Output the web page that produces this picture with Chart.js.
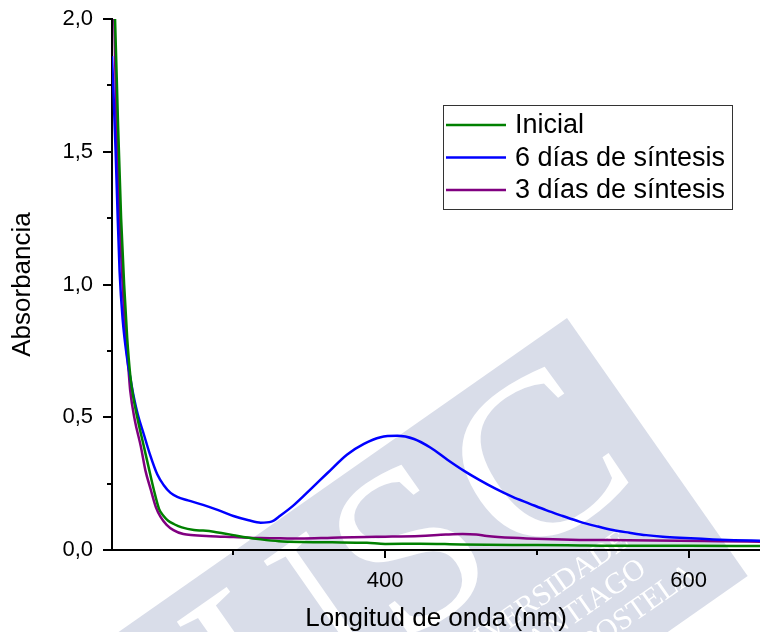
<!DOCTYPE html>
<html>
<head>
<meta charset="utf-8">
<script src="https://cdn.jsdelivr.net/npm/chart.js@4.4.1/dist/chart.umd.min.js"></script>
<style>
  html, body { margin: 0; padding: 0; background: #fff; }
  canvas { display: block; }
</style>
</head>
<body>
<canvas id="spectra" width="760" height="632"></canvas>
<script>
// UV-Vis absorption spectra of the synthesis samples

// Inicial
const inicialNm = [220, 222, 224, 226, 228, 230, 232, 234, 237, 241, 244, 247.6, 251, 254, 257, 261, 266, 274, 280, 287,
  293, 300, 309, 318, 330, 344, 365, 388, 400, 423, 450, 484, 520, 550, 600, 647];
const inicialAbs = [2.3, 2.0, 1.6, 1.25, 1.0, 0.8, 0.66, 0.577, 0.49, 0.39, 0.315, 0.226, 0.155, 0.128, 0.11, 0.097, 0.085, 0.075, 0.073, 0.069,
  0.063, 0.056, 0.047, 0.04, 0.033, 0.03, 0.029, 0.027, 0.023, 0.024, 0.021, 0.019, 0.018, 0.016, 0.016, 0.015];

// 6 días de síntesis
const seisDiasNm = [220, 221, 222.4, 223.5, 225, 227, 230, 232, 234.4, 237, 241, 245, 249.8, 254, 258.6, 263, 270, 280, 290,
  300, 310, 318, 325, 331, 340, 352, 362, 375, 386, 397, 408, 419, 430, 441, 452, 462, 473, 484, 495,
  506, 517, 528, 539, 550, 561, 572, 583, 594, 605, 616, 630, 647];
const seisDiasAbs = [1.86, 1.72, 1.5, 1.3, 1.05, 0.87, 0.72, 0.65, 0.575, 0.51, 0.435, 0.36, 0.285, 0.245, 0.215, 0.2, 0.187, 0.17, 0.15,
  0.128, 0.112, 0.103, 0.107, 0.13, 0.17, 0.235, 0.29, 0.36, 0.40, 0.425, 0.43, 0.418, 0.385, 0.34, 0.298, 0.264, 0.23, 0.20, 0.175,
  0.15, 0.128, 0.107, 0.09, 0.075, 0.065, 0.056, 0.05, 0.046, 0.043, 0.040, 0.037, 0.035];

// 3 días de síntesis
const tresDiasNm = [220, 221.5, 223, 224.5, 227, 229, 231, 232, 235, 239, 242, 245.6, 249, 252, 256, 260.5, 267, 274, 285, 300,
  318, 331, 344, 365, 388, 400, 423, 440, 451, 460, 467, 484, 505, 528, 560, 594, 620, 647];
const tresDiasAbs = [2.3, 2.0, 1.6, 1.32, 1.0, 0.8, 0.67, 0.6, 0.49, 0.39, 0.3, 0.226, 0.16, 0.125, 0.095, 0.075, 0.06, 0.056, 0.052, 0.049,
  0.045, 0.044, 0.043, 0.046, 0.049, 0.05, 0.053, 0.058, 0.06, 0.058, 0.053, 0.046, 0.041, 0.038, 0.037, 0.035, 0.033, 0.031];

const seriesLabels = ['Inicial', '6 días de síntesis', '3 días de síntesis'];
const seriesColors = ['#008000', '#0000ff', '#800080'];

// Axis ticks
const xMajorTicks = [400, 600];
const xMinorTicks = [300, 500];
const yMajorTicks = [0, 0.5, 1.0, 1.5, 2.0];
const yMinorTicks = [0.25, 0.75, 1.25, 1.75];

const FONT = '"Liberation Sans", Arial, sans-serif';
Chart.defaults.font.family = FONT;
Chart.defaults.color = '#000';

function toPoints(xs, ys) {
  return xs.map((x, i) => ({ x: x, y: ys[i] }));
}

// University seal drawn faintly behind the plot
const watermark = {
  id: 'watermark',
  beforeDraw(chart) {
    const ctx = chart.ctx;
    ctx.save();
    ctx.translate(567, 318);
    ctx.rotate(-35 * Math.PI / 180);
    ctx.fillStyle = '#d9dde9';
    ctx.fillRect(-720, 0, 720, 315);

    ctx.fillStyle = '#ffffff';
    ctx.textAlign = 'center';
    ctx.textBaseline = 'middle';
    ctx.font = '232px "Liberation Serif", "DejaVu Serif", serif';
    ctx.fillText('U', -415, 116);
    ctx.fillText('S', -262, 113);
    ctx.fillText('C', -108, 114);

    ctx.textAlign = 'right';
    ctx.font = '30px "Liberation Serif", "DejaVu Serif", serif';
    ctx.fillText('UNIVERSIDADE', -78, 214);
    ctx.fillText('DE SANTIAGO', -80, 247);
    ctx.fillText('DE COMPOSTELA', -42, 280);
    ctx.restore();
  }
};

// Outward tick marks, long for major and short for minor
const tickMarks = {
  id: 'tickMarks',
  afterDraw(chart) {
    const ctx = chart.ctx;
    const xs = chart.scales.x;
    const ys = chart.scales.y;
    const area = chart.chartArea;
    ctx.save();
    ctx.strokeStyle = '#000';
    ctx.lineWidth = 2;
    ctx.beginPath();
    xMajorTicks.concat(xMinorTicks).forEach(v => {
      const px = Math.round(xs.getPixelForValue(v));
      const len = xMajorTicks.includes(v) ? 8 : 5;
      ctx.moveTo(px, area.bottom);
      ctx.lineTo(px, area.bottom + len);
    });
    yMajorTicks.concat(yMinorTicks).forEach(v => {
      const py = Math.round(ys.getPixelForValue(v));
      const len = yMajorTicks.includes(v) ? 9 : 5;
      ctx.moveTo(area.left, py);
      ctx.lineTo(area.left - len, py);
    });
    ctx.stroke();
    ctx.restore();
  }
};

// Framed legend inside the plot
const legendBox = {
  id: 'legendBox',
  afterDraw(chart) {
    const ctx = chart.ctx;
    const left = 443, top = 105, w = 290, h = 105;
    ctx.save();
    ctx.fillStyle = '#fff';
    ctx.fillRect(left, top, w, h);
    ctx.strokeStyle = '#333';
    ctx.lineWidth = 1;
    ctx.strokeRect(left + 0.5, top + 0.5, w - 1, h - 1);
    ctx.font = '27px ' + FONT;
    ctx.textBaseline = 'middle';
    ctx.textAlign = 'left';
    chart.data.datasets.forEach((ds, i) => {
      const y = top + 20 + i * 32.5;
      ctx.strokeStyle = ds.borderColor;
      ctx.lineWidth = 2.5;
      ctx.beginPath();
      ctx.moveTo(left + 3, y);
      ctx.lineTo(left + 63, y);
      ctx.stroke();
      ctx.fillStyle = '#000';
      ctx.fillText(ds.label, left + 72, y + 1);
    });
    ctx.restore();
  }
};

const seriesData = [
  toPoints(inicialNm, inicialAbs),
  toPoints(seisDiasNm, seisDiasAbs),
  toPoints(tresDiasNm, tresDiasAbs)
];

new Chart(document.getElementById('spectra'), {
  type: 'line',
  data: {
    datasets: seriesLabels.map((label, i) => ({
      label: label,
      data: seriesData[i],
      borderColor: seriesColors[i],
      backgroundColor: seriesColors[i],
      borderWidth: 2.5,
      pointRadius: 0,
      fill: false,
      cubicInterpolationMode: 'monotone'
    }))
  },
  options: {
    responsive: false,
    animation: false,
    devicePixelRatio: 1,
    layout: { padding: { top: 19, left: 0, right: 0, bottom: 0 } },
    plugins: {
      legend: { display: false },
      tooltip: { enabled: false }
    },
    scales: {
      x: {
        type: 'linear',
        min: 220,
        max: 647,
        afterFit: scale => {
          scale.height = 82;
          scale.paddingLeft = 0;
          scale.paddingRight = 0;
        },
        afterBuildTicks: scale => { scale.ticks = xMajorTicks.map(v => ({ value: v })); },
        grid: { display: false, drawTicks: false },
        border: { display: true, color: '#000', width: 2 },
        ticks: {
          padding: 18,
          color: '#000',
          font: { size: 22 },
          maxRotation: 0,
          autoSkip: false,
          callback: value => String(value)
        },
        title: {
          display: true,
          text: 'Longitud de onda (nm)',
          color: '#000',
          font: { size: 26, lineHeight: 1 },
          padding: { top: 0, bottom: 0 }
        }
      },
      y: {
        type: 'linear',
        min: 0,
        max: 2,
        afterFit: scale => {
          scale.width = 112;
          scale.paddingTop = 0;
          scale.paddingBottom = 0;
        },
        afterBuildTicks: scale => { scale.ticks = yMajorTicks.map(v => ({ value: v })); },
        grid: { display: false, drawTicks: false },
        border: { display: true, color: '#000', width: 2 },
        ticks: {
          padding: 19,
          color: '#000',
          font: { size: 22 },
          callback: value => value.toFixed(1).replace('.', ',')
        },
        title: {
          display: true,
          text: 'Absorbancia',
          color: '#000',
          font: { size: 26, lineHeight: 1 },
          padding: { top: 10, bottom: 0 }
        }
      }
    }
  },
  plugins: [watermark, tickMarks, legendBox]
});
</script>
</body>
</html>
